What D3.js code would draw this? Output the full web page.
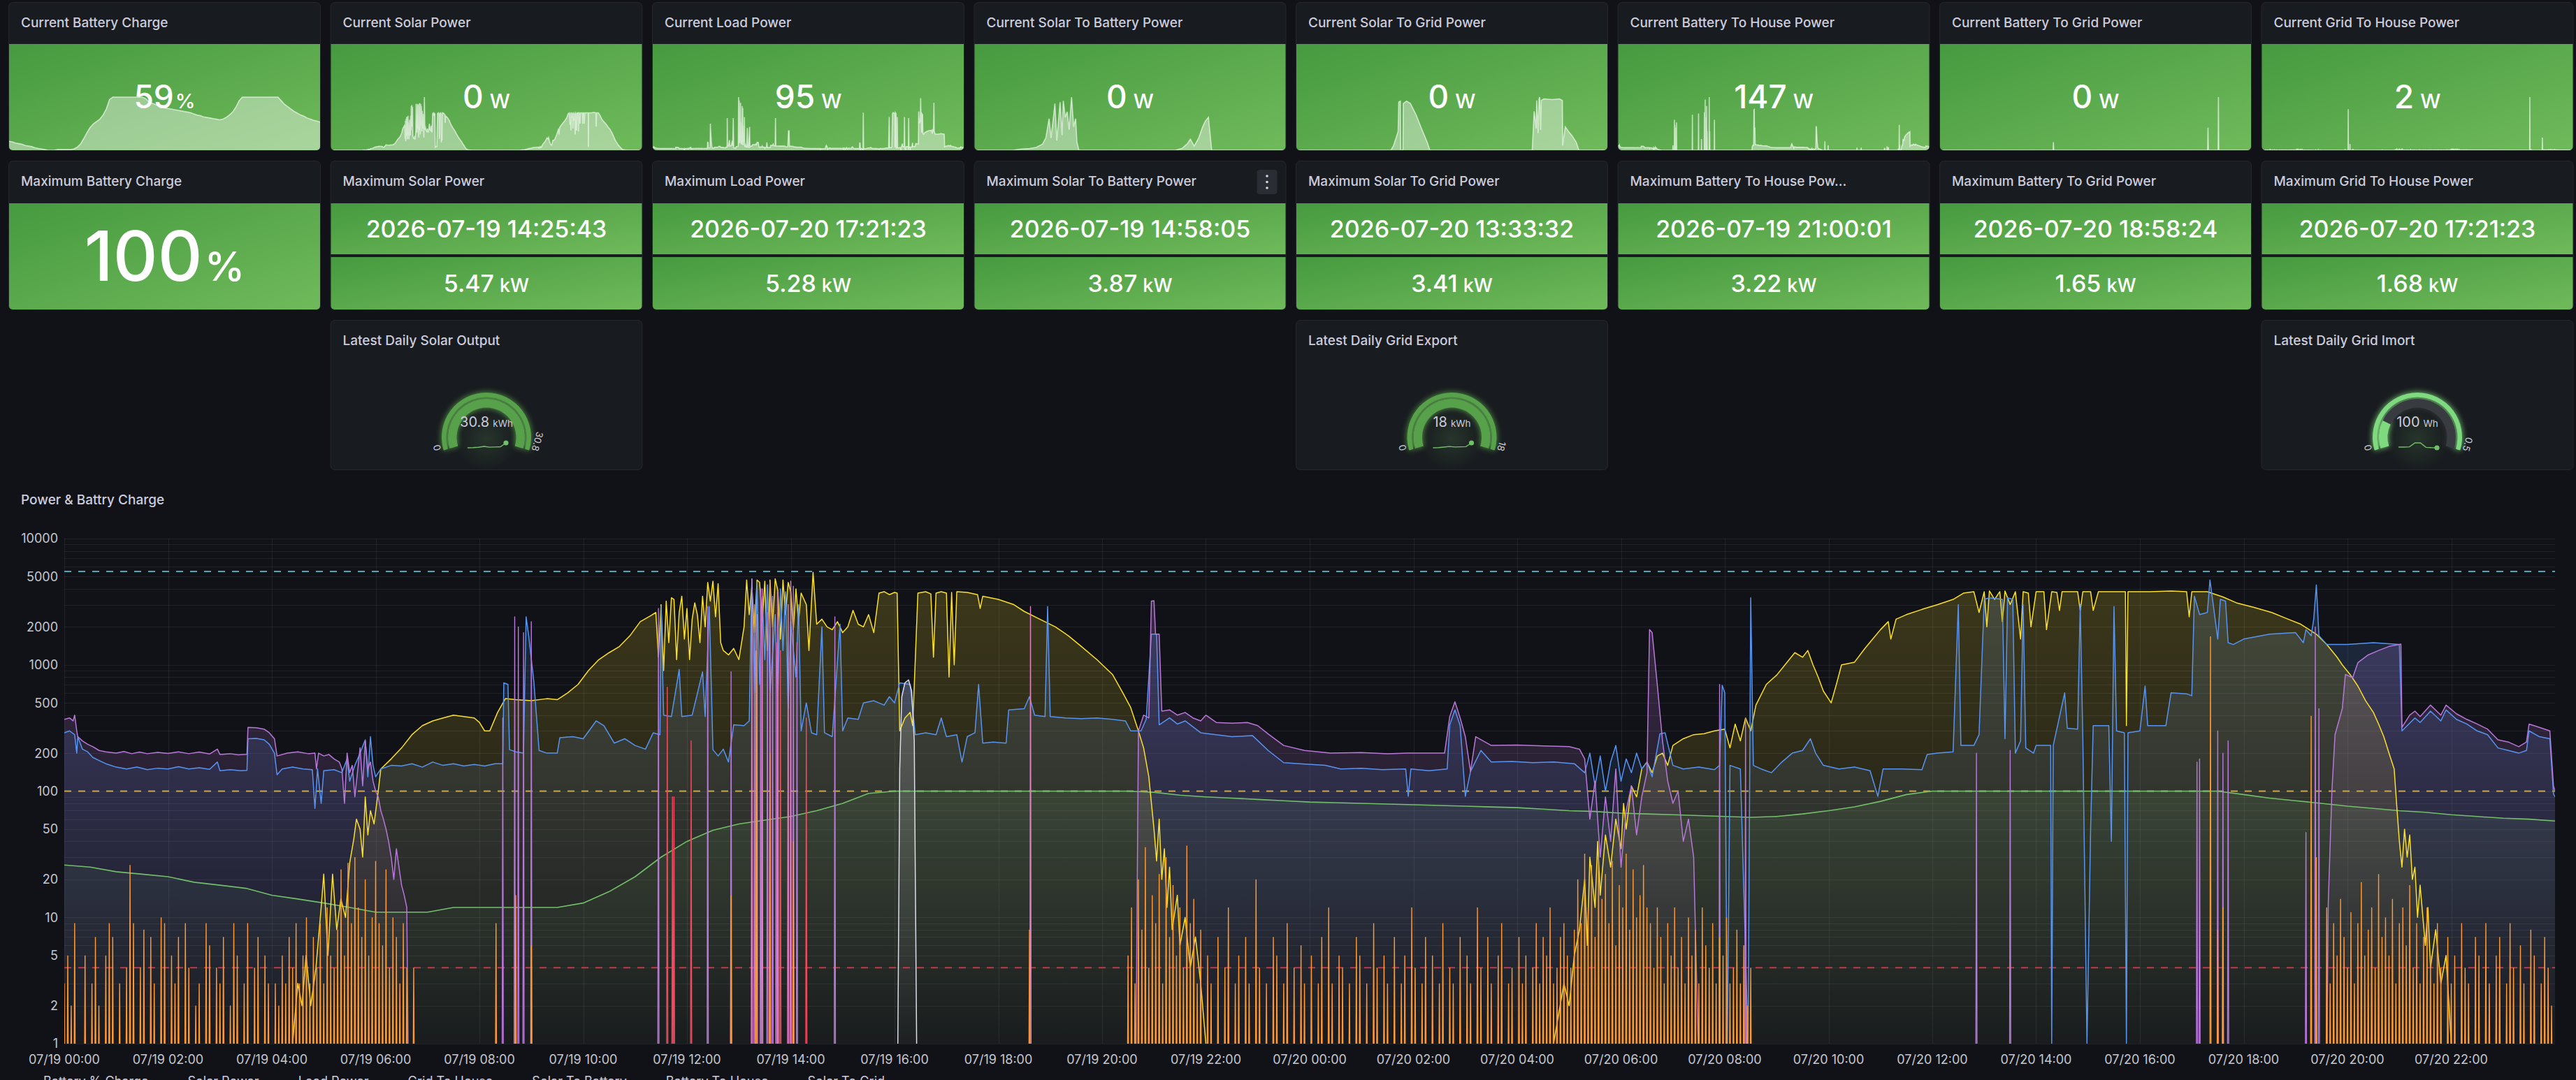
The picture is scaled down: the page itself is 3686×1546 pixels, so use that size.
<!DOCTYPE html>
<html>
<head>
<meta charset="utf-8">
<title>Solar</title>
<script src="https://cdn.jsdelivr.net/npm/d3@7/dist/d3.min.js"></script>
<style>
  html, body { margin: 0; padding: 0; background: #111217; }
  body { width: 3686px; height: 1546px; overflow: hidden; }
  svg { display: block; font-family: Inter, "Noto Sans", sans-serif; }
</style>
</head>
<body>
<svg id="dash" width="3686" height="1546"></svg>
<script>
"use strict";

// ---------- stat panels ----------
const statTitles = ["Current Battery Charge", "Current Solar Power", "Current Load Power", "Current Solar To Battery Power",
  "Current Solar To Grid Power", "Current Battery To House Power", "Current Battery To Grid Power", "Current Grid To House Power"];
const statValues = ["59", "0", "95", "0", "0", "147", "0", "2"];
const statUnits = ["%", "W", "W", "W", "W", "W", "W", "W"];

const maxTitles = ["Maximum Battery Charge", "Maximum Solar Power", "Maximum Load Power", "Maximum Solar To Battery Power",
  "Maximum Solar To Grid Power", "Maximum Battery To House Pow\u2026", "Maximum Battery To Grid Power", "Maximum Grid To House Power"];
const maxTimes = [null, "2026-07-19 14:25:43", "2026-07-20 17:21:23", "2026-07-19 14:58:05",
  "2026-07-20 13:33:32", "2026-07-19 21:00:01", "2026-07-20 18:58:24", "2026-07-20 17:21:23"];
const maxValues = ["100", "5.47", "5.28", "3.87", "3.41", "3.22", "1.65", "1.68"];
const maxUnits = ["%", "kW", "kW", "kW", "kW", "kW", "kW", "kW"];

// ---------- gauges ----------
const gaugeCols = [1, 4, 7];
const gaugeTitles = ["Latest Daily Solar Output", "Latest Daily Grid Export", "Latest Daily Grid Imort"];
const gaugeValues = ["30.8", "18", "100"];
const gaugeUnits = ["kWh", "kWh", "Wh"];
const gaugeMaxLabels = ["30.8", "18", "0.5"];
const gaugeFractions = [1, 1, 0.2];
const gaugeHist = [
  [22.1, 22.4, 23.0, 24.6, 23.2, 23.5, 24.0, 30.8],
  [12.0, 12.2, 12.9, 13.6, 13.0, 13.2, 13.4, 18.0],
  [120, 120, 122, 150, 150, 118, 116, 115]
];

// ---------- chart series (hours since 07/19 00:00, watts / %) ----------
// battery charge, every 30 minutes
const battPct = [26, 25, 23, 22, 21, 19, 18, 17, 15, 14, 13, 12, 11, 11, 11, 12, 12, 12, 12, 12, 13, 16, 21, 30, 40, 49, 55, 59, 63, 70, 80, 96,
  100, 100, 100, 100, 100, 100, 100, 100, 100, 100,
  98, 93, 90, 88, 86, 84, 82, 81, 80, 79, 78, 77, 76, 75, 74, 72, 70, 69, 67, 66, 65, 64, 63, 62, 63, 66, 70, 75, 83, 94,
  100, 100, 100, 100, 100, 100, 100, 100, 100, 100, 100, 100,
  94, 88, 84, 80, 76, 73, 70, 68, 65, 63, 61, 60, 58];

const solarDay1 = [[4.40,1],[4.50,3],[4.58,2],[4.66,5],[4.75,2],[4.85,4],[4.95,12],[5.0,22],[5.08,5],[5.17,22],[5.25,8],[5.33,14],[5.42,10],
  [5.5,27],[5.58,42],[5.63,60],[5.7,50],[5.75,30],[5.8,90],[5.85,45],[5.9,70],[5.97,55],[6.05,100],[6.1,150],[6.3,180],[6.5,220],[6.7,280],
  [6.9,330],[7.1,360],[7.3,380],[7.5,400],[7.7,390],[7.9,380],[8.0,350],[8.1,300],[8.2,300],[8.35,420],[8.5,540],[8.7,530],[9.0,520],[9.3,540],
  [9.5,530],[9.7,600],[9.9,700],[10.1,900],[10.3,1100],[10.5,1250],[10.7,1400],[10.9,1700],[11.1,2200],[11.3,2450],[11.4,2600],[11.45,1150],
  [11.5,3000],[11.55,900],[11.6,3200],[11.65,1500],[11.7,3400],[11.75,3300],[11.8,1100],[11.85,2600],[11.9,3500],[11.95,1600],[12.0,2800],
  [12.05,1100],[12.1,2300],[12.15,3100],[12.2,2500],[12.25,1500],[12.3,3500],[12.35,2000],[12.4,4500],[12.45,3200],[12.5,4600],[12.55,2400],
  [12.6,4400],[12.65,1500],[12.7,1300],[12.8,1200],[12.9,1350],[13.0,1100],[13.1,2000],[13.15,4700],[13.2,2500],[13.25,4200],[13.3,1800],
  [13.35,4700],[13.4,4500],[13.45,2200],[13.5,4600],[13.55,1300],[13.6,4700],[13.65,2000],[13.7,4800],[13.75,3900],[13.8,1600],[13.85,4700],
  [13.9,2500],[13.95,4500],[14.0,3800],[14.05,1900],[14.1,4000],[14.15,2200],[14.2,3700],[14.3,3000],[14.35,1300],[14.43,5400],[14.5,2100],
  [14.6,2300],[14.7,2000],[14.8,1900],[14.9,2200],[15.0,1800],[15.1,2000],[15.2,2700],[15.3,2100],[15.4,2000],[15.5,2500],[15.6,1800],
  [15.7,3700],[15.8,3800],[15.9,3600],[16.0,3750],[16.05,3700],[16.1,300],[16.2,380],[16.3,420],[16.35,330],[16.45,3700],[16.6,3800],
  [16.7,3650],[16.75,1150],[16.8,3700],[16.9,3800],[17.0,3700],[17.05,800],[17.1,3750],[17.15,1000],[17.2,3800],[17.4,3750],[17.6,3600],
  [17.65,2800],[17.7,3500],[18.0,3300],[18.3,3000],[18.5,2650],[18.8,2300],[19.1,2000],[19.35,1700],[19.6,1400],[19.9,1100],[20.2,840],
  [20.4,600],[20.55,460],[20.7,300],[20.8,220],[20.9,130],[21.0,50],[21.05,28],[21.1,60],[21.15,20],[21.2,35],[21.25,12],[21.3,25],
  [21.35,8],[21.45,15],[21.5,6],[21.6,10],[21.7,4],[21.8,7],[21.9,3],[22.0,1]];

const solarDay2 = [[28.7,1],[28.9,3],[29.0,2],[29.1,5],[29.2,8],[29.3,20],[29.35,6],[29.4,30],[29.5,12],[29.55,40],[29.6,15],[29.7,45],
  [29.8,25],[29.9,60],[30.0,35],[30.05,80],[30.1,50],[30.2,110],[30.3,90],[30.4,150],[30.5,170],[30.6,140],[30.7,190],[30.8,200],[30.9,160],
  [31.0,230],[31.2,260],[31.4,280],[31.6,285],[31.8,300],[32.0,310],[32.1,220],[32.2,340],[32.3,250],[32.4,380],[32.5,300],[32.6,480],
  [32.8,700],[33.0,830],[33.2,1050],[33.35,1250],[33.5,1150],[33.6,1300],[33.7,1000],[33.8,800],[33.9,620],[34.05,500],[34.15,700],
  [34.25,1000],[34.5,1050],[34.7,1350],[34.85,1600],[35.0,1900],[35.15,2200],[35.2,1600],[35.3,2300],[35.5,2500],[35.8,2750],[36.1,3000],
  [36.4,3300],[36.6,3700],[36.8,3800],[36.9,2600],[37.0,3800],[37.05,2000],[37.1,3850],[37.2,3300],[37.3,3800],[37.35,2200],[37.4,3850],
  [37.5,3000],[37.6,3800],[37.7,1600],[37.75,3800],[37.85,3700],[37.9,2000],[38.0,3800],[38.15,3800],[38.2,1900],[38.3,3800],[38.4,3750],
  [38.45,2700],[38.5,3800],[38.8,3800],[38.85,2700],[38.9,3800],[39.05,3800],[39.1,2700],[39.2,3800],[39.6,3800],[39.72,3800],[39.74,330],
  [39.77,3800],[40.2,3800],[40.6,3850],[40.9,3800],[40.95,2400],[41.0,3800],[41.3,3800],[41.6,3450],[41.86,3100],[42.2,2850],[42.54,2600],
  [42.8,2350],[43.1,2100],[43.4,1750],[43.6,1450],[43.8,1150],[43.9,1000],[44.05,840],[44.2,680],[44.35,520],[44.5,420],[44.6,340],
  [44.7,270],[44.8,200],[44.9,150],[44.95,76],[45.0,40],[45.05,25],[45.1,50],[45.15,30],[45.2,45],[45.25,20],[45.3,25],[45.35,10],
  [45.4,18],[45.5,6],[45.55,12],[45.6,4],[45.7,8],[45.8,3],[45.9,5],[46.0,1]];

const loadPower = [[0,290],[0.1,300],[0.2,280],[0.24,200],[0.26,270],[0.35,215],[0.45,205],[0.55,185],[0.67,175],[0.8,165],[1.0,155],
  [1.2,150],[1.4,155],[1.6,148],[1.8,152],[2.0,150],[2.2,156],[2.4,150],[2.6,153],[2.8,149],[2.95,170],[3.0,145],[3.2,148],[3.4,145],
  [3.52,146],[3.54,260],[3.7,262],[3.85,255],[3.95,235],[4.05,200],[4.1,135],[4.2,150],[4.4,155],[4.6,150],[4.78,148],[4.83,73],[4.88,150],
  [4.95,80],[5.0,145],[5.2,148],[5.35,140],[5.45,180],[5.5,120],[5.6,160],[5.7,200],[5.8,255],[5.85,130],[5.9,270],[5.95,160],[6.0,130],
  [6.1,150],[6.3,160],[6.5,158],[6.7,165],[6.9,155],[7.1,170],[7.3,160],[7.5,165],[7.7,158],[7.9,163],[8.1,158],[8.3,165],[8.45,165],
  [8.47,720],[8.55,700],[8.58,213],[8.7,205],[8.85,200],[8.9,2400],[8.95,1700],[9.05,730],[9.15,210],[9.3,200],[9.5,200],[9.55,265],
  [9.8,270],[10.0,260],[10.25,360],[10.4,330],[10.6,240],[10.8,260],[11.0,230],[11.2,215],[11.35,290],[11.48,280],[11.5,2900],[11.55,400],
  [11.7,390],[11.85,920],[11.9,390],[12.1,400],[12.3,880],[12.35,390],[12.43,2900],[12.5,213],[12.6,190],[12.7,215],[12.8,170],[12.9,335],
  [13.1,330],[13.2,360],[13.25,4800],[13.3,600],[13.35,4500],[13.4,700],[13.45,3500],[13.5,1100],[13.55,4300],[13.6,600],[13.7,2500],
  [13.75,500],[13.8,4000],[13.85,1300],[13.9,3800],[13.95,450],[14.0,2200],[14.1,800],[14.15,3000],[14.2,300],[14.3,500],[14.4,290],
  [14.5,280],[14.6,2000],[14.65,290],[14.8,270],[14.95,2100],[15.0,300],[15.1,380],[15.3,370],[15.4,500],[15.6,520],[15.8,480],[15.9,560],
  [16.0,500],[16.1,720],[16.3,700],[16.4,280],[16.6,290],[16.8,280],[16.9,380],[17.0,270],[17.2,280],[17.3,170],[17.4,270],[17.55,290],
  [17.62,700],[17.7,240],[17.9,245],[18.15,240],[18.2,440],[18.5,450],[18.6,560],[18.7,400],[18.9,390],[18.95,2900],[19.0,390],[19.3,380],
  [19.6,375],[19.9,380],[20.2,370],[20.45,360],[20.55,300],[20.75,300],[20.85,370],[20.95,1750],[21.05,1750],[21.1,335],[21.3,380],
  [21.45,340],[21.6,360],[21.9,290],[22.2,280],[22.5,270],[22.9,275],[23.2,210],[23.5,168],[23.8,165],[24.3,160],[24.6,150],[25.0,152],
  [25.4,148],[25.85,150],[25.9,91],[25.95,150],[26.3,145],[26.65,150],[26.7,335],[26.8,440],[26.9,330],[27.0,91],[27.1,143],[27.3,210],
  [27.5,170],[27.9,172],[28.3,168],[28.7,170],[29.1,165],[29.3,140],[29.4,200],[29.5,110],[29.6,190],[29.7,100],[29.8,170],[29.9,230],
  [30.0,120],[30.1,180],[30.2,140],[30.3,200],[30.4,150],[30.5,170],[30.6,130],[30.75,284],[30.85,290],[31.0,160],[31.2,150],[31.5,155],
  [31.8,148],[31.9,160],[31.95,690],[32.0,600],[32.05,1],[32.1,160],[32.3,150],[32.45,1],[32.5,3400],[32.55,160],[32.7,150],[32.9,140],
  [33.1,170],[33.3,200],[33.5,210],[33.65,260],[33.75,200],[33.9,160],[34.2,150],[34.5,155],[34.8,145],[34.95,91],[35.05,150],[35.4,150],
  [35.8,148],[35.9,195],[36.1,200],[36.4,205],[36.5,3000],[36.55,230],[36.8,230],[36.9,280],[37.0,3300],[37.1,3400],[37.35,3300],
  [37.4,260],[37.45,3400],[37.55,3300],[37.6,200],[37.7,250],[37.75,3000],[37.8,220],[37.95,200],[38.0,230],[38.28,230],[38.3,1],
  [38.33,230],[38.55,600],[38.6,315],[38.8,310],[38.85,3000],[38.9,260],[38.98,1],[39.05,50],[39.1,330],[39.4,330],[39.45,40],[39.5,2900],
  [39.55,300],[39.7,290],[39.74,1],[39.77,290],[40.0,300],[40.1,680],[40.15,330],[40.5,330],[40.6,600],[40.9,590],[41.0,570],[41.05,3500],
  [41.15,2500],[41.3,2600],[41.35,4700],[41.4,3300],[41.5,1600],[41.55,3300],[41.65,3200],[41.7,1500],[41.8,1450],[42.0,1600],[42.5,1750],
  [43.0,1800],[43.15,1500],[43.2,1900],[43.3,1700],[43.35,2300],[43.4,4300],[43.45,1700],[43.6,1450],[44.0,1450],[44.5,1500],[45.0,1450],
  [45.05,300],[45.3,380],[45.4,350],[45.6,430],[45.8,360],[45.9,440],[46.1,370],[46.3,340],[46.5,300],[46.7,280],[46.9,220],[47.1,210],
  [47.3,200],[47.45,210],[47.5,300],[47.7,270],[47.9,260],[47.97,95],[48.0,90]];

const bthNight1 = [[0,370],[0.1,380],[0.17,360],[0.2,400],[0.24,300],[0.26,270],[0.35,250],[0.45,235],[0.55,225],[0.67,210],[0.8,205],
  [1.0,200],[1.15,206],[1.3,198],[1.45,204],[1.6,198],[1.8,203],[2.0,199],[2.2,205],[2.4,198],[2.6,204],[2.8,197],[2.95,215],[3.0,195],
  [3.2,198],[3.35,194],[3.52,196],[3.54,320],[3.7,318],[3.85,310],[3.95,290],[4.05,260],[4.1,190],[4.3,200],[4.5,205],[4.7,198],[4.83,200],
  [4.86,150],[4.9,200],[5.0,190],[5.1,195],[5.2,180],[5.3,170],[5.35,150],[5.4,80],[5.45,200],[5.5,140],[5.55,160],[5.6,90],[5.7,220],
  [5.75,110],[5.8,250],[5.85,150],[5.9,170],[5.95,120],[6.0,100],[6.05,90],[6.1,70],[6.15,60],[6.2,50],[6.25,40],[6.3,30],[6.35,20],
  [6.4,35],[6.45,25],[6.5,18],[6.55,15],[6.6,12],[6.63,0]];
const bthNight2 = [[20.65,0],[20.7,300],[20.8,400],[20.9,380],[20.95,3200],[21.0,3220],[21.03,1750],[21.1,1750],[21.15,430],[21.3,440],
  [21.45,400],[21.6,420],[21.75,380],[21.9,360],[22.0,400],[22.2,350],[22.5,345],[22.8,350],[23.0,330],[23.2,284],[23.5,230],[23.9,210],
  [24.4,200],[25.0,202],[25.5,198],[25.9,200],[26.6,200],[26.7,390],[26.8,510],[26.9,380],[27.0,270],[27.1,143],[27.2,270],[27.5,230],
  [28.0,232],[28.5,228],[29.0,225],[29.2,215],[29.3,180],[29.4,60],[29.5,120],[29.6,30],[29.7,90],[29.8,40],[29.9,150],[30.0,25],
  [30.1,70],[30.2,110],[30.3,45],[30.4,90],[30.5,140],[30.55,1900],[30.6,1800],[30.7,690],[30.8,250],[30.9,120],[31.0,80],[31.1,100],
  [31.2,40],[31.3,60],[31.4,30],[31.5,0]];
const bthNight3 = [[43.6,0],[43.63,13],[43.7,100],[43.76,280],[43.9,450],[43.96,840],[44.1,790],[44.2,1040],[44.4,1200],[44.6,1300],
  [44.8,1400],[45.0,1450],[45.03,1460],[45.05,320],[45.2,400],[45.3,430],[45.4,390],[45.6,480],[45.8,400],[45.9,480],[46.1,410],
  [46.3,370],[46.5,340],[46.7,310],[46.9,255],[47.1,245],[47.3,225],[47.45,245],[47.5,340],[47.7,320],[47.9,300],[47.97,110],[48.0,100]];
const bthSpikes = [[8.45,380],[8.68,2400],[8.75,2000],[8.85,1800],[9.0,2200],[11.45,2800],[12.4,2900],[12.85,880],[13.3,3000],[13.42,4000],
  [13.55,2600],[13.65,3500],[13.72,1500],[14.05,4200],[14.12,1500],[14.85,2400],[31.9,700],[32.4,380],[36.85,200],[37.5,210],[41.1,170],
  [41.15,180],[41.5,300],[41.6,200],[41.7,250],[43.2,47],[43.38,2000],[43.45,450]];

const redSpikes = [[11.62,665],[11.72,90],[11.75,90],[12.08,250],[13.75,2600],[13.8,1300],[14.3,380]];
const pinkSpikes = [[13.25,4800],[13.35,2500],[13.45,4000],[13.6,4500],[13.75,3800],[13.95,3000],[14.0,4600],[18.62,2900]];
const whiteBump = [[16.06,0],[16.1,150],[16.14,560],[16.2,720],[16.27,760],[16.33,620],[16.38,250],[16.43,0]];

// grid to house: night readings every 4 minutes, plus a few daytime spikes
const gridNight1Start = 0;
const gridNight1 = [3,5,2,9,0,0,5,0,3,7, 2,0,5,9,7,0,3,0,4,26, 9,0,4,8,0,7,3,0,10,9, 0,5,3,7,0,9,4,0,2,3,
  0,9,6,0,4,3,7,0,2,9, 5,0,3,9,0,4,7,0,5,3, 0,3,2,5,3,7,4,9,3,5, 10,3,7,4,9,3,12,5,4,8,
  24,5,27,9,30,12,7,20,5,10, 28,9,6,24,4,10,7,3,9,4, 0,4];
const gridNight2Start = 20.5;
const gridNight2 = [5,12,3,20,8,36,4,15,9,22,3,30,7,18,5,12,4,37,9,14,3,8,
  0,5,3,0,7,0,4,12,0,3, 5,0,7,3,0,20,4,0,3,0, 7,5,0,3,9,0,4,0,6,3, 0,5,0,3,7,0,12,3,0,5,
  4,0,3,0,7,5,0,3,0,9, 4,0,5,3,0,7,0,3,5,0, 12,4,0,3,7,0,5,0,3,9, 0,4,3,0,7,0,5,3,0,12,
  4,0,7,3,0,5,9,0,3,4, 0,7,3,5,0,4,9,3,7,5, 12,3,4,7,9,5,4,8,
  20,9,32,12,26,7,30,14,22,9,28,6,18,12,32,8,24,10,15,26,12,
  9,4,12,7,3,9,5,12,4,7,3,10,5,8,3,12,6,4,9,3,7,5,10,3,4,8,3,6,2,4];
const gridNight3Start = 43.6;
const gridNight3 = [12,3,9,5,14,7,4,11,3,9, 19,5,8,12,4,22,7,10,5,14, 3,9,12,6,18,4,9,3,7,12,
  5,3,9,4,0,7,3,5,0,9, 4,3,0,7,5,0,9,3,0,5, 7,0,3,9,4,0,6,3,0,8, 5,0,3,7,4,2];
const gridDaySpikes = [[8.32,9],[8.7,15],[9.0,6],[12.85,15],[13.33,1300],[13.6,200],[14.05,40],[18.6,8],[41.36,1680],[41.5,8],
  [41.6,12],[43.3,395],[43.4,30]];

// stat-only series (sparklines)
const solarToBattery = [[0,0],[6,0],[7,80],[8.5,120],[9.5,200],[10.5,450],[11,900],[11.5,2300],[11.8,900],[12.1,2100],[12.4,3400],
  [12.7,700],[13.2,3500],[13.5,1100],[13.7,3600],[14.0,2400],[14.3,2800],[14.6,1500],[14.97,3870],[15.3,1700],[15.6,2300],[15.8,600],
  [16.1,0],[31,0],[32,120],[32.8,450],[33.3,800],[33.9,300],[34.6,900],[35.2,1700],[35.6,2100],[36.1,2400],[36.6,0],[48,0]];
const solarToGrid = [[0,0],[14.6,0],[15,300],[15.7,1200],[15.8,3100],[16.05,3150],[16.1,0],[16.45,0],[16.5,3000],[17,3150],[17.6,3000],
  [18.5,2250],[19.35,1350],[20.2,500],[20.6,0],[36.4,0],[36.7,2500],[37.0,1400],[37.1,3200],[37.3,1100],[37.45,3300],[37.56,3410],
  [37.7,1300],[37.8,3200],[38.2,3300],[39.5,3250],[40.6,3300],[41.05,3200],[41.1,300],[41.5,1500],[42,1200],[42.6,900],[43.2,500],
  [43.6,0],[48,0]];
const batteryToGrid = [[0,0],[17.45,0],[17.5,250],[17.55,0],[41.3,0],[41.36,700],[41.42,0],[42.92,0],[42.97,1650],[43.02,0],[48,0]];

// axes, thresholds, legend
const yTickValues = [1, 2, 5, 10, 20, 50, 100, 200, 500, 1000, 2000, 5000, 10000];
const xTickHours = [0, 2, 4, 6, 8, 10, 12, 14, 16, 18, 20, 22, 24, 26, 28, 30, 32, 34, 36, 38, 40, 42, 44, 46];
const xTickLabels = ["07/19 00:00", "07/19 02:00", "07/19 04:00", "07/19 06:00", "07/19 08:00", "07/19 10:00", "07/19 12:00",
  "07/19 14:00", "07/19 16:00", "07/19 18:00", "07/19 20:00", "07/19 22:00", "07/20 00:00", "07/20 02:00", "07/20 04:00",
  "07/20 06:00", "07/20 08:00", "07/20 10:00", "07/20 12:00", "07/20 14:00", "07/20 16:00", "07/20 18:00", "07/20 20:00", "07/20 22:00"];
const thresholdValues = [5500, 100, 4];
const thresholdColors = ["#4fa6b4", "#c9a54c", "#c4374b"];
const legendNames = ["Battery % Charge", "Solar Power", "Load Power", "Grid To House", "Solar To Battery", "Battery To House", "Solar To Grid"];
const legendColors = ["#73BF69", "#FADE2A", "#5794F2", "#FF9830", "#E27FC4", "#B877D9", "#F2495C"];

// ================= drawing =================
const svg = d3.select("#dash");
const defs = svg.append("defs");
const colX = i => 12 + i * 460.5;
const PW = 447;
const TITLE = "#ccccdc";

const sg = defs.append("linearGradient").attr("id", "statBg").attr("x1", 0).attr("y1", 0).attr("x2", 1).attr("y2", 1);
sg.append("stop").attr("offset", 0).attr("stop-color", "#469a3f");
sg.append("stop").attr("offset", 1).attr("stop-color", "#70ba5b");

let clipN = 0;
function panelBox(x, y, w, h) {
  svg.append("rect").attr("x", x + 0.5).attr("y", y + 0.5).attr("width", w - 1).attr("height", h - 1)
    .attr("rx", 6).attr("fill", "#181b1f").attr("stroke", "#25272d");
  const id = "pclip" + (clipN++);
  defs.append("clipPath").attr("id", id).append("rect")
    .attr("x", x + 1).attr("y", y + 1).attr("width", w - 2).attr("height", h - 2).attr("rx", 5);
  return svg.append("g").attr("clip-path", `url(#${id})`);
}
function panelTitle(x, y, t) {
  svg.append("text").attr("x", x + 18).attr("y", y + 36).attr("fill", TITLE)
    .attr("font-size", 19).attr("font-weight", 500).text(t);
}
function valueText(cx, y, val, unit, big, small, gap) {
  const t = svg.append("text").attr("x", cx).attr("y", y).attr("text-anchor", "middle")
    .attr("fill", "#ffffff").attr("font-weight", 500);
  t.append("tspan").attr("font-size", big).text(val);
  t.append("tspan").attr("font-size", small).attr("dx", gap).text(unit);
}

// sparkline sources
const pairsFromSteps = (start, vals) => vals.map((v, i) => [start + i * 4 / 60, v]);
const spikePts = (list, dh) => list.flatMap(([h, v]) => [[h - dh, 0], [h, v], [h + dh, 0]]);
const battPairs = battPct.map((v, i) => [i * 0.5, v]);
const solarAll = [[0, 0]].concat(solarDay1, [[22.1, 0], [28.6, 0]], solarDay2, [[46.1, 0], [48, 0]]);
const bthAll = [[0, 0]].concat(bthNight1, spikePts(bthSpikes.filter(d => d[0] < 20), 0.03), bthNight2,
  spikePts(bthSpikes.filter(d => d[0] > 31.6), 0.03), bthNight3).sort((a, b) => a[0] - b[0]);
const gridAll = pairsFromSteps(gridNight1Start, gridNight1)
  .concat(pairsFromSteps(gridNight2Start, gridNight2), pairsFromSteps(gridNight3Start, gridNight3),
    spikePts(gridDaySpikes, 0.03)).sort((a, b) => a[0] - b[0]);
const sparkSources = [battPairs, solarAll, loadPower, solarToBattery, solarToGrid, bthAll, batteryToGrid, gridAll];

// ---- row 1: current values ----
statTitles.forEach((t, i) => {
  const x = colX(i), y = 3, h = 213;
  const g = panelBox(x, y, PW, h);
  g.append("rect").attr("x", x).attr("y", 63).attr("width", PW).attr("height", h - 60).attr("fill", "url(#statBg)");
  const data = sparkSources[i];
  const sx = d3.scaleLinear().domain([0, 48]).range([x + 1, x + PW - 1]);
  const sy = d3.scaleLinear().domain(d3.extent(data, d => d[1])).range([215, 139]);
  g.append("path").datum(data).attr("fill", "rgba(255,255,255,0.4)")
    .attr("d", d3.area().x(d => sx(d[0])).y0(216).y1(d => sy(d[1])));
  g.append("path").datum(data).attr("fill", "none").attr("stroke", "rgba(255,255,255,0.62)").attr("stroke-width", 1.6)
    .attr("d", d3.line().x(d => sx(d[0])).y(d => sy(d[1])));
  panelTitle(x, y, t);
  valueText(x + PW / 2, 155, statValues[i], statUnits[i], 46, 29, statUnits[i] === "%" ? 2 : 9);
});

// ---- row 2: maxima ----
maxTitles.forEach((t, i) => {
  const x = colX(i), y = 230, h = 214;
  const g = panelBox(x, y, PW, h);
  if (maxTimes[i] === null) {
    g.append("rect").attr("x", x).attr("y", 291).attr("width", PW).attr("height", 153).attr("fill", "url(#statBg)");
    valueText(x + PW / 2, 402, maxValues[i], maxUnits[i], 99, 58, 3);
  } else {
    g.append("rect").attr("x", x).attr("y", 291).attr("width", PW).attr("height", 73).attr("fill", "url(#statBg)");
    g.append("rect").attr("x", x).attr("y", 368).attr("width", PW).attr("height", 76).attr("fill", "url(#statBg)");
    svg.append("text").attr("x", x + PW / 2).attr("y", 340).attr("text-anchor", "middle").attr("fill", "#fff")
      .attr("font-size", 34).attr("font-weight", 500).text(maxTimes[i]);
    valueText(x + PW / 2, 418, maxValues[i], maxUnits[i], 34, 27, 8);
  }
  panelTitle(x, y, t);
  if (i === 3) {
    svg.append("rect").attr("x", x + PW - 42).attr("y", 243).attr("width", 29).attr("height", 35).attr("rx", 4).attr("fill", "#2a2d33");
    [252, 260.5, 269].forEach(cy => svg.append("circle").attr("cx", x + PW - 27.5).attr("cy", cy).attr("r", 1.8).attr("fill", "#d8d9e0"));
  }
});

// ---- row 3: gauges ----
const glow = defs.append("filter").attr("id", "glow").attr("x", "-30%").attr("y", "-30%").attr("width", "160%").attr("height", "160%");
glow.append("feGaussianBlur").attr("in", "SourceGraphic").attr("stdDeviation", 4).attr("result", "b");
const gm = glow.append("feMerge");
gm.append("feMergeNode").attr("in", "b");
gm.append("feMergeNode").attr("in", "SourceGraphic");
const rg = defs.append("radialGradient").attr("id", "gaugeCore");
rg.append("stop").attr("offset", 0).attr("stop-color", "#73BF69").attr("stop-opacity", 0.16);
rg.append("stop").attr("offset", 1).attr("stop-color", "#73BF69").attr("stop-opacity", 0);

gaugeCols.forEach((c, k) => {
  const x = colX(c), y = 458, h = 215;
  const g = panelBox(x, y, PW, h);
  panelTitle(x, y, gaugeTitles[k]);
  const cx = x + PW / 2, cy = 626;
  const a0 = -107 * Math.PI / 180, a1 = 107 * Math.PI / 180;
  const gid = "garc" + k;
  const lg = defs.append("linearGradient").attr("id", gid).attr("gradientUnits", "userSpaceOnUse")
    .attr("x1", cx - 64).attr("y1", 0).attr("x2", cx + 64).attr("y2", 0);
  lg.append("stop").attr("offset", 0).attr("stop-color", k === 2 ? "#7fd97f" : "#58a14b");
  lg.append("stop").attr("offset", 1).attr("stop-color", k === 2 ? "#8de58b" : "#95e392");
  g.append("circle").attr("cx", cx).attr("cy", cy + 2).attr("r", 46).attr("fill", "url(#gaugeCore)");
  const arcs = g.append("g").attr("transform", `translate(${cx},${cy})`).attr("filter", "url(#glow)");
  arcs.append("path").attr("fill", `url(#${gid})`)
    .attr("d", d3.arc().innerRadius(57.5).outerRadius(64).startAngle(a0).endAngle(a1).cornerRadius(1)());
  arcs.append("path").attr("fill", "#383b40")
    .attr("d", d3.arc().innerRadius(42.5).outerRadius(55).startAngle(a0).endAngle(a1)());
  arcs.append("path").attr("fill", `url(#${gid})`)
    .attr("d", d3.arc().innerRadius(42.5).outerRadius(55).startAngle(a0).endAngle(a0 + (a1 - a0) * gaugeFractions[k])());
  // min / max labels along the ring
  const lab = (ang, txt, anchor) => {
    const deg = ang * 180 / Math.PI;
    const px = cx + 67 * Math.sin(ang), py = cy - 67 * Math.cos(ang);
    svg.append("text").attr("transform", `translate(${px},${py}) rotate(${deg})`)
      .attr("text-anchor", anchor).attr("fill", TITLE).attr("font-size", 13.5).text(txt);
  };
  lab(a0 + 0.03, "0", "start");
  lab(a1 - 0.02, gaugeMaxLabels[k], "end");
  const vt = svg.append("text").attr("x", cx).attr("y", 611).attr("text-anchor", "middle").attr("fill", TITLE);
  vt.append("tspan").attr("font-size", 20).text(gaugeValues[k]);
  vt.append("tspan").attr("font-size", 13.5).attr("dx", 5).text(gaugeUnits[k]);
  // history sparkline
  const hist = gaugeHist[k];
  const hx = d3.scaleLinear().domain([0, hist.length - 1]).range([cx - 27, cx + 28]);
  const hy = d3.scaleLinear().domain(d3.extent(hist)).range([641, 634]);
  svg.append("path").datum(hist).attr("fill", "none").attr("stroke", "#73BF69").attr("stroke-width", 1.4)
    .attr("d", d3.line().x((d, i) => hx(i)).y(d => hy(d)));
  svg.append("circle").attr("cx", hx(hist.length - 1)).attr("cy", hy(hist[hist.length - 1])).attr("r", 3.6).attr("fill", "#73BF69");
});

// ---- time series ----
svg.append("text").attr("x", 30).attr("y", 722).attr("fill", TITLE).attr("font-size", 19).attr("font-weight", 500)
  .text("Power & Battry Charge");

const X0 = 92, X1 = 3656, Y0 = 1494, Y1 = 771;
const xs = d3.scaleLinear().domain([0, 48]).range([X0, X1]);
const ys = d3.scaleLog().domain([1, 10000]).range([Y0, Y1]);
const yv = v => (v >= 1 ? ys(v) : Y0 + 40);

const grid = svg.append("g").attr("stroke", "rgba(204,204,220,0.085)").attr("stroke-width", 1);
[1, 10, 100, 1000].forEach(dec => d3.range(1, 10).forEach(m => {
  const yy = Math.round(ys(m * dec)) + 0.5;
  grid.append("line").attr("x1", X0).attr("x2", X1).attr("y1", yy).attr("y2", yy);
}));
grid.append("line").attr("x1", X0).attr("x2", X1).attr("y1", Math.round(ys(10000)) + 0.5).attr("y2", Math.round(ys(10000)) + 0.5);
xTickHours.forEach(h => {
  const xx = Math.round(xs(h)) + 0.5;
  grid.append("line").attr("x1", xx).attr("x2", xx).attr("y1", Y1).attr("y2", Y0);
});

svg.append("g").selectAll("text").data(yTickValues).join("text")
  .attr("x", 83).attr("y", d => ys(d)).attr("dy", "0.36em").attr("text-anchor", "end")
  .attr("fill", "#c4c6ce").attr("font-size", 18).text(d => d);
svg.append("g").selectAll("text").data(xTickHours).join("text")
  .attr("x", d => xs(d)).attr("y", 1523).attr("text-anchor", "middle")
  .attr("fill", "#c4c6ce").attr("font-size", 18).text((d, i) => xTickLabels[i]);

defs.append("clipPath").attr("id", "plotClip").append("rect")
  .attr("x", X0).attr("y", Y1 - 2).attr("width", X1 - X0).attr("height", Y0 - Y1 + 2);
const plot = svg.append("g").attr("clip-path", "url(#plotClip)");

function fillGrad(id, color, top) {
  const lg = defs.append("linearGradient").attr("id", id).attr("gradientUnits", "userSpaceOnUse")
    .attr("x1", 0).attr("y1", Y1).attr("x2", 0).attr("y2", Y0);
  lg.append("stop").attr("offset", 0).attr("stop-color", color).attr("stop-opacity", top);
  lg.append("stop").attr("offset", 1).attr("stop-color", color).attr("stop-opacity", 0.02);
}
fillGrad("fGreen", "#73BF69", 0.2);
fillGrad("fYellow", "#FADE2A", 0.2);
fillGrad("fBlue", "#5794F2", 0.2);
fillGrad("fPurple", "#B877D9", 0.26);
fillGrad("fWhite", "#d8d8e4", 0.3);

const lineGen = d3.line().x(d => xs(d[0])).y(d => yv(d[1]));
const areaGen = d3.area().x(d => xs(d[0])).y0(Y0 + 40).y1(d => yv(d[1]));
const battSeries = battPairs;

const fills = [[battSeries, "fGreen"], [bthNight1, "fPurple"], [bthNight2, "fPurple"], [bthNight3, "fPurple"],
  [loadPower, "fBlue"], [solarDay1, "fYellow"], [solarDay2, "fYellow"], [whiteBump, "fWhite"]];
fills.forEach(([d, id]) => plot.append("path").datum(d).attr("fill", `url(#${id})`).attr("d", areaGen));

thresholdValues.forEach((v, i) => {
  plot.append("line").attr("x1", X0).attr("x2", X1).attr("y1", ys(v)).attr("y2", ys(v))
    .attr("stroke", thresholdColors[i]).attr("stroke-width", 2).attr("stroke-dasharray", "10,10");
});

const lines = [
  [battSeries, "#73BF69", 1.6],
  [solarDay1, "#FADE2A", 1.5], [solarDay2, "#FADE2A", 1.5],
  [loadPower, "#5794F2", 1.5],
  [bthNight1, "#B877D9", 1.5], [bthNight2, "#B877D9", 1.5], [bthNight3, "#B877D9", 1.5],
  [whiteBump, "#dcdce6", 1.5],
  [spikePts(bthSpikes, 0.012), "#B877D9", 1.4],
  [spikePts(redSpikes, 0.012), "#F2495C", 1.4],
  [spikePts(pinkSpikes, 0.012), "#E27FC4", 1.4]
];
lines.forEach(([d, c, w]) => plot.append("path").datum(d).attr("fill", "none").attr("stroke", c)
  .attr("stroke-width", w).attr("stroke-linejoin", "round").attr("d", lineGen));

const orangeSets = [pairsFromSteps(gridNight1Start, gridNight1), pairsFromSteps(gridNight2Start, gridNight2),
  pairsFromSteps(gridNight3Start, gridNight3), gridDaySpikes];
orangeSets.forEach(set => {
  plot.append("path").datum(spikePts(set.filter(d => d[1] > 0), 0.011)).attr("fill", "none")
    .attr("stroke", "#FF9830").attr("stroke-width", 1.4).attr("d", lineGen);
});

// legend (mostly below the visible area, as in the dashboard)
let lx = 36;
legendNames.forEach((n, i) => {
  svg.append("rect").attr("x", lx).attr("y", 1546).attr("width", 16).attr("height", 4).attr("rx", 2).attr("fill", legendColors[i]);
  const t = svg.append("text").attr("x", lx + 26).attr("y", 1554).attr("fill", TITLE).attr("font-size", 18).text(n);
  lx += 26 + t.node().getComputedTextLength() + 30;
});
</script>
</body>
</html>
